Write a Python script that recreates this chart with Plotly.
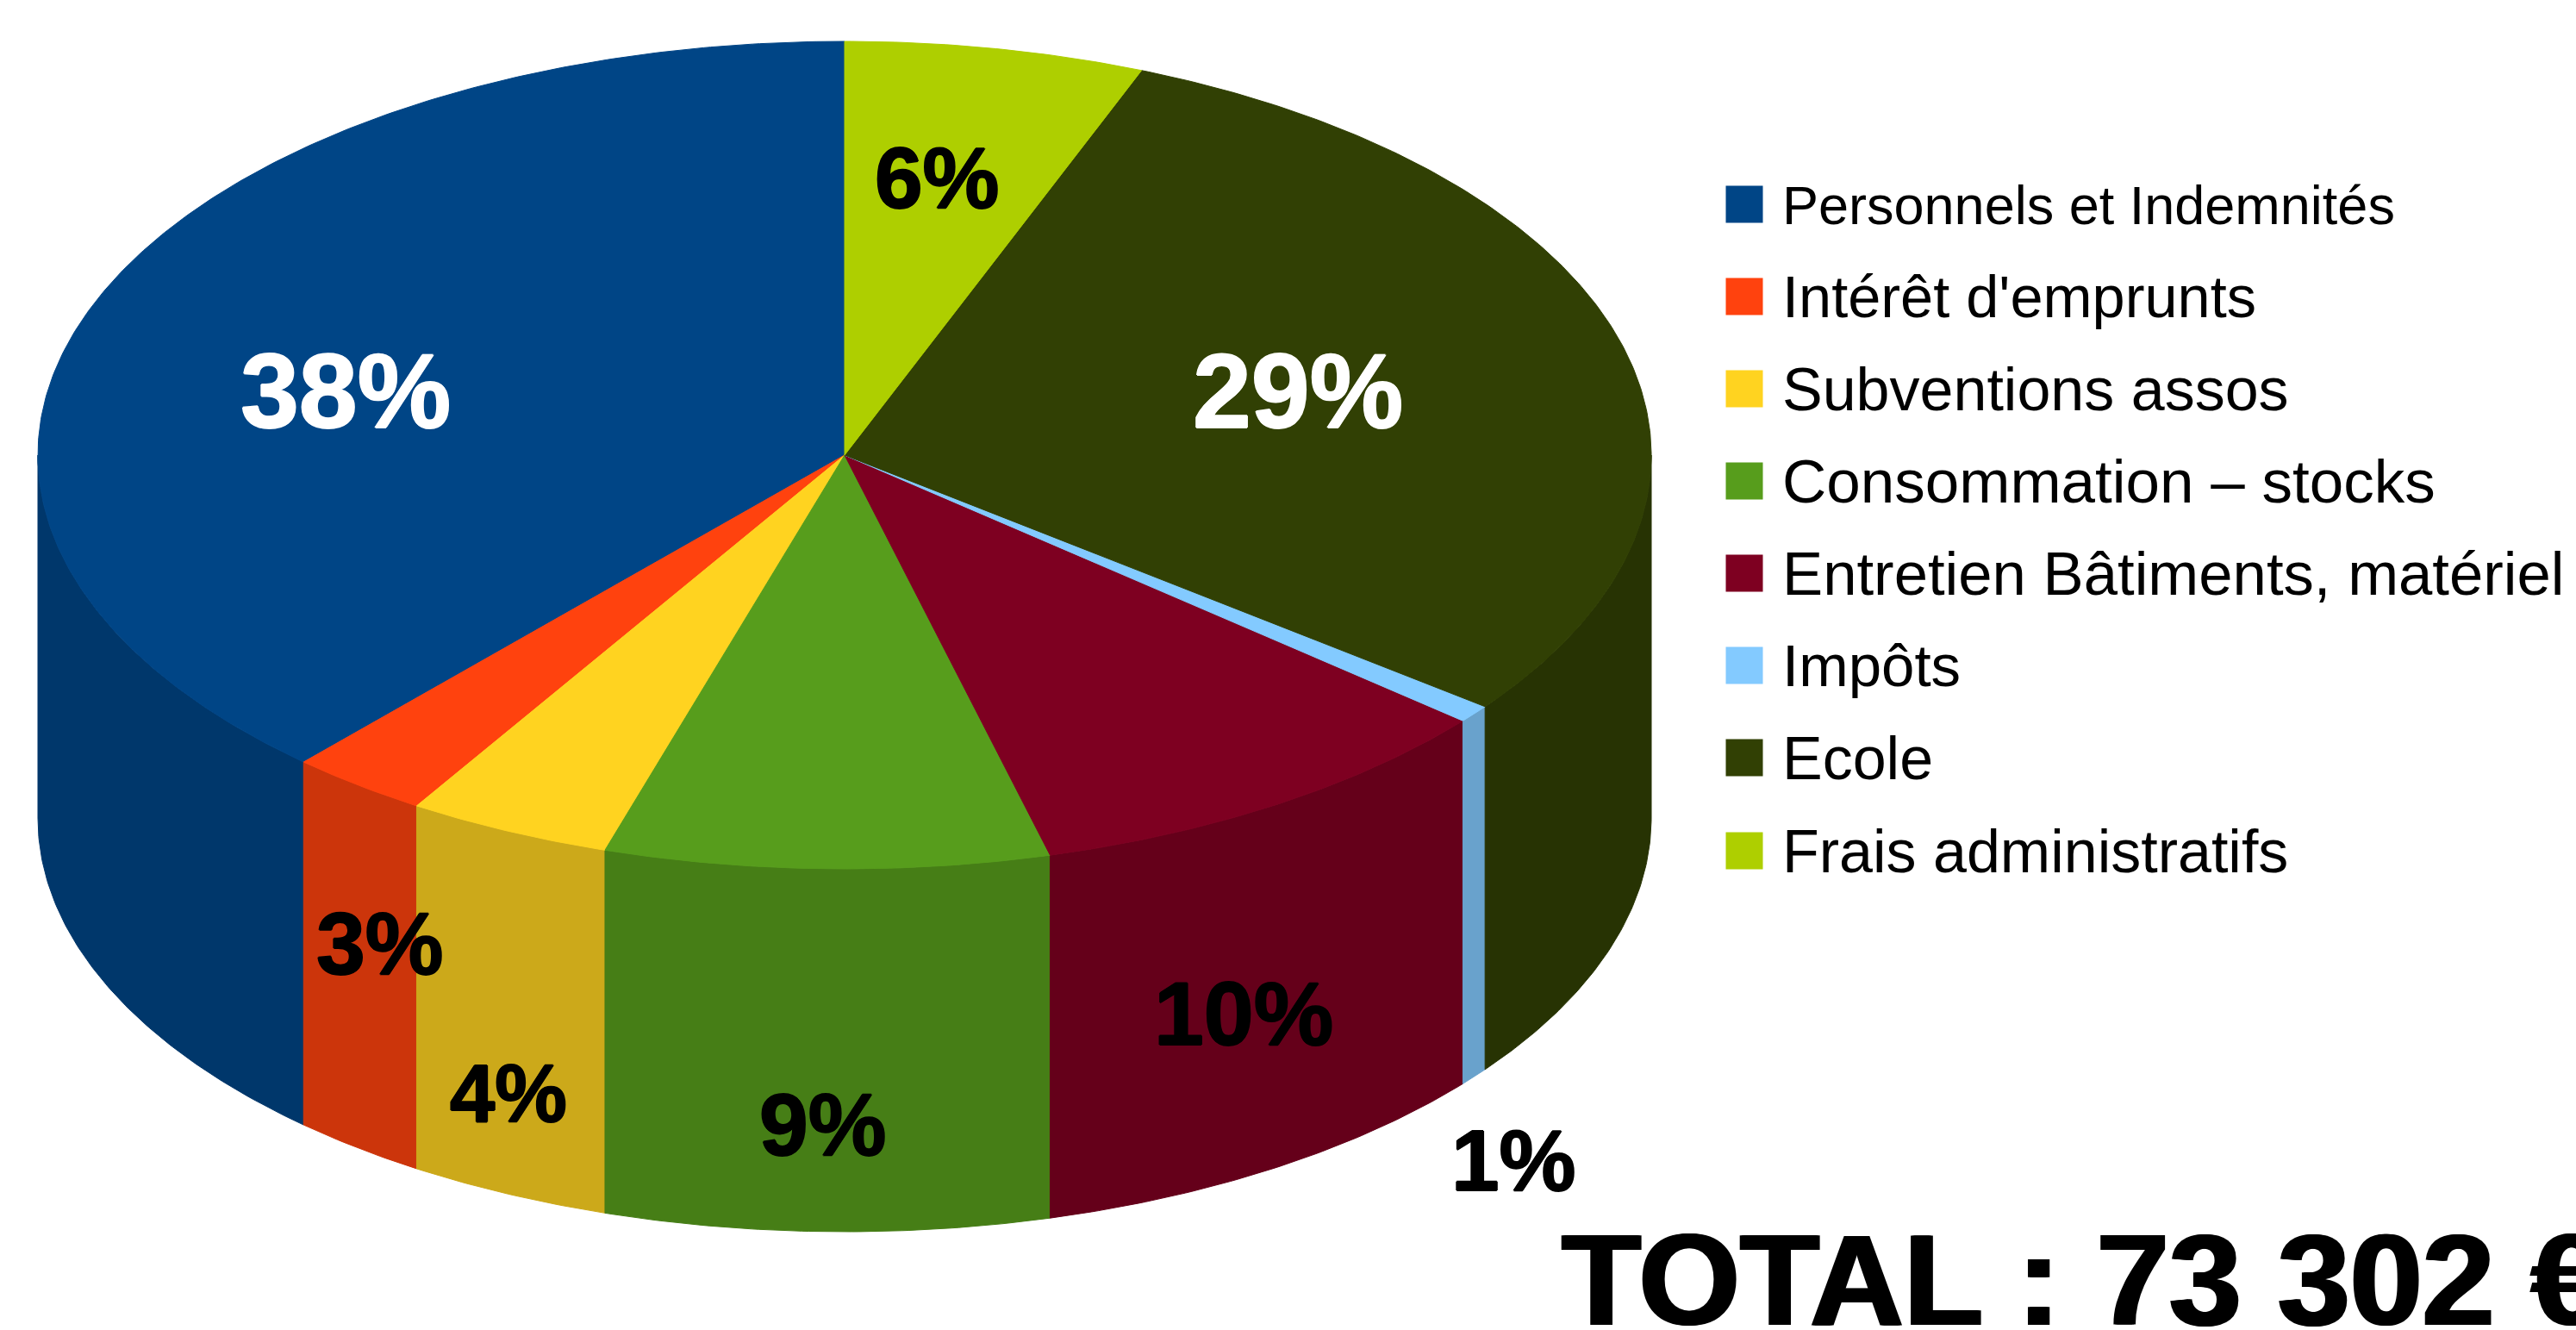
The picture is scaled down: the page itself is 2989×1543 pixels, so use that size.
import numpy as np
import plotly.graph_objects as go

CATEGORIES = ["Personnels et Indemnités", "Intérêt d'emprunts", "Subventions assos",
              "Consommation – stocks", "Entretien Bâtiments, matériel", "Impôts",
              "Ecole", "Frais administratifs"]
VALUES = [38.3, 2.8, 4.1, 8.9, 9.8, 0.7, 29.4, 6.0]
TOP_COLORS = ["#004586", "#ff420e", "#ffd320", "#579d1c", "#7e0021", "#83caff", "#314004", "#aecf00"]
SIDE_COLORS = ["#00376b", "#cc350b", "#cca91a", "#467e16", "#65001a", "#69a2cc", "#273303", "#8ba600"]
LABEL_COLORS = ["#ffffff", "#000000", "#000000", "#000000", "#000000", "#000000", "#ffffff", "#000000"]
LABEL_XY = [(401, 454), (440, 1095), (590, 1268), (954, 1305), (1443, 1176), (1756, 1346), (1506, 454), (1087, 206)]
LABEL_SIZES = [122, 102, 94, 102, 104, 100, 122, 100]
TOTAL_TEXT = "TOTAL : 73 302 €"

W, H = 2989, 1543
CX, CY, RX, RY, DEPTH = 980, 528, 936, 480, 421


def arc(a0, a1, dy=0.0):
    t = np.radians(np.linspace(a0, a1, max(int(abs(a1 - a0) * 2), 2)))
    return CX + RX * np.sin(t), CY - RY * np.cos(t) + dy


fig = go.Figure()
cum = np.concatenate([[0], np.cumsum(VALUES)]) / sum(VALUES) * 360
spans = [(360 - cum[i + 1], 360 - cum[i]) for i in range(len(VALUES))]

for (a0, a1), name, col in zip(spans, CATEGORIES, SIDE_COLORS):
    lo, hi = max(a0, 90), min(a1, 270)
    if lo >= hi:
        continue
    xt, yt = arc(lo, hi)
    xb, yb = arc(hi, lo, DEPTH)
    fig.add_trace(go.Scatter(x=np.r_[xt, xb, xt[0]], y=np.r_[yt, yb, yt[0]], mode="lines",
                             fill="toself", fillcolor=col, line=dict(color=col, width=1),
                             hoverinfo="skip", name=name + " (side)"))

for (a0, a1), name, col in zip(spans, CATEGORIES, TOP_COLORS):
    xa, ya = arc(a0, a1)
    fig.add_trace(go.Scatter(x=np.r_[CX, xa, CX], y=np.r_[CY, ya, CY], mode="lines",
                             fill="toself", fillcolor=col, line=dict(color=col, width=1),
                             name=name))

# Legend
LEG_X, LEG_TEXT_X = 2024, 2068
LEG_Y = [237, 344, 451, 558, 665, 772, 879, 987]
LEG_TEXT_DY = 7
LEG_SIZES = [63, 68.5, 70, 71, 70.7, 69, 70, 70]
fig.add_trace(go.Scatter(x=[LEG_X] * 8, y=LEG_Y, mode="markers",
                         marker=dict(symbol="square", size=43, color=TOP_COLORS, line_width=0),
                         hoverinfo="skip"))
fig.add_trace(go.Scatter(x=[LEG_TEXT_X] * 8, y=[v + LEG_TEXT_DY for v in LEG_Y], mode="text",
                         text=CATEGORIES, textposition="middle right", hoverinfo="skip",
                         textfont=dict(family="Liberation Sans", size=LEG_SIZES, color="#000000")))

# Percent labels
for v, (x, y), c, s in zip(VALUES, LABEL_XY, LABEL_COLORS, LABEL_SIZES):
    sh = f"1px 0 0 {c}, -1px 0 0 {c}, 0 1px 0 {c}, 0 -1px 0 {c}"
    fig.add_annotation(x=x, y=y, text=f"<b>{round(v)}%</b>", showarrow=False,
                       xanchor="center", yanchor="middle",
                       font=dict(family="Liberation Sans", size=s, color=c, shadow=sh))

sh = "2px 0 0 #000, -2px 0 0 #000"
fig.add_annotation(x=1810, y=1484, text=f"<b>{TOTAL_TEXT}</b>", showarrow=False,
                   xanchor="left", yanchor="middle",
                   font=dict(family="Liberation Sans", size=151, color="#000000", shadow=sh))

fig.update_layout(width=W, height=H, margin=dict(l=0, r=0, t=0, b=0),
                  paper_bgcolor="white", plot_bgcolor="white", showlegend=False,
                  xaxis=dict(range=[0, W], visible=False, fixedrange=True),
                  yaxis=dict(range=[H, 0], visible=False, fixedrange=True))
fig.write_html("out.html", config={"displayModeBar": False},
               post_script="document.body.style.margin='0';document.body.style.overflow='hidden';")
